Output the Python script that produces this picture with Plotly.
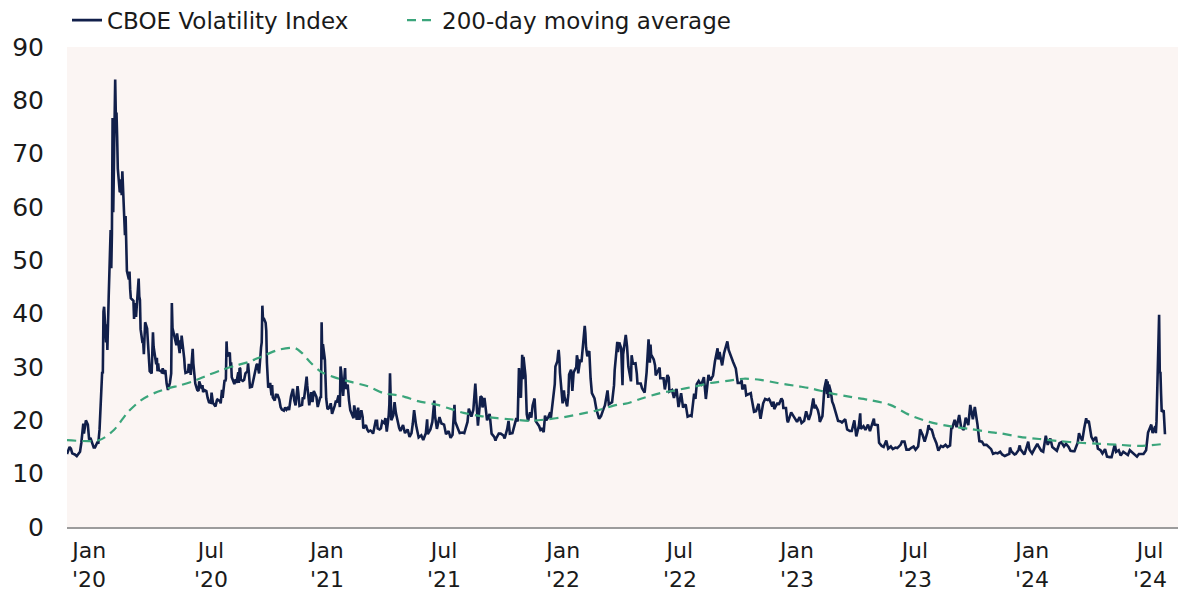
import plotly.graph_objects as go

# ---------------- data ----------------
vix_2020 = [
 ("01-02",13.7),("01-06",15.0),("01-08",14.7),("01-10",13.8),("01-14",13.6),("01-17",13.3),("01-22",14.1),
 ("01-24",15.8),("01-27",19.4),("01-28",17.5),("01-31",20.0),("02-03",19.2),("02-05",16.4),("02-07",16.7),
 ("02-12",14.9),("02-14",14.9),("02-18",16.0),("02-19",15.6),("02-21",18.3),("02-24",26.2),("02-25",29.1),
 ("02-26",28.8),("02-27",40.4),("02-28",41.3),("03-02",34.6),("03-03",38.0),("03-04",33.2),("03-05",40.8),
 ("03-06",43.1),("03-09",55.7),("03-10",48.5),("03-11",55.1),("03-12",76.7),("03-13",59.0),("03-16",83.9),
 ("03-17",77.1),("03-18",77.7),("03-19",73.2),("03-20",67.2),("03-23",62.8),("03-24",62.9),("03-25",65.2),
 ("03-26",62.2),("03-27",66.7),("03-30",58.3),("03-31",54.7),("04-01",58.3),("04-02",52.1),("04-03",48.0),
 ("04-06",46.4),("04-07",47.9),("04-08",44.6),("04-09",42.9),("04-13",42.4),("04-14",39.0),("04-15",42.0),
 ("04-16",41.3),("04-17",39.4),("04-20",45.0),("04-21",46.6),("04-22",43.2),("04-23",42.6),("04-24",37.1),
 ("04-27",34.5),("04-28",34.8),("04-29",32.4),("04-30",35.4),("05-01",38.4),("05-04",37.2),("05-05",34.8),
 ("05-07",32.6),("05-08",29.2),("05-11",28.8),("05-12",34.2),("05-13",36.5),("05-14",33.8),("05-15",33.1),
 ("05-18",30.5),("05-19",31.7),("05-20",29.2),("05-21",30.7),("05-22",29.4),("05-26",29.2),("05-27",28.8),
 ("05-28",29.8),("05-29",28.7),("06-01",29.4),("06-02",28.0),("06-03",26.9),("06-05",25.7),("06-08",27.0),
 ("06-10",28.8),("06-11",42.0),("06-12",37.3),("06-15",35.6),("06-17",34.7),("06-18",34.1),("06-19",36.3),
 ("06-22",33.0),("06-23",32.6),("06-24",35.0),("06-25",33.4),("06-26",35.9),("06-29",33.0),("06-30",31.6),
 ("07-01",29.8),("07-02",28.9),("07-06",29.1),("07-07",30.6),("07-08",29.3),("07-09",30.5),("07-10",28.5),
 ("07-13",33.4),("07-14",30.7),("07-15",29.0),("07-17",26.9),("07-20",25.7),("07-22",25.5),("07-23",27.3),
 ("07-24",27.0),("07-27",25.9),("07-28",26.6),("07-29",25.3),("07-31",25.7),("08-03",25.5),("08-05",24.2),
 ("08-07",23.4),("08-10",23.3),("08-11",25.2),("08-13",23.3),("08-17",22.6),("08-19",23.7),("08-20",23.9),
 ("08-24",23.6),("08-25",23.2),("08-27",25.7),("08-28",24.2),("08-31",27.6),("09-01",27.3),("09-02",27.8),
 ("09-03",34.8),("09-04",32.0),("09-08",32.7),("09-09",30.0),("09-10",30.9),("09-11",28.1),("09-14",27.1),
 ("09-15",26.8),("09-17",27.7),("09-18",27.0),("09-21",29.0),("09-22",27.0),("09-23",29.8),("09-24",29.7),
 ("09-25",27.6),("09-28",27.4),("09-30",27.6),("10-02",28.8),("10-05",29.2),("10-06",30.7),("10-07",29.3),
 ("10-08",27.6),("10-09",26.2),("10-12",26.3),("10-14",27.6),("10-16",28.6),("10-19",30.4),("10-20",30.6),
 ("10-22",29.3),("10-23",28.8),("10-26",33.7),("10-27",34.6),("10-28",41.5),("10-29",38.8),("10-30",39.2),
 ("11-02",38.3),("11-03",36.8),("11-04",30.8),("11-05",28.8),("11-06",26.1),("11-09",27.0),("11-10",26.0),
 ("11-11",24.7),("11-12",26.6),("11-13",24.3),("11-16",23.7),("11-18",25.0),("11-19",24.3),("11-20",24.9),
 ("11-23",23.9),("11-25",22.5),("11-27",22.0),("11-30",21.8),("12-02",22.4),("12-04",22.0),("12-07",22.5),
 ("12-08",21.9),("12-10",23.7),("12-11",24.5),("12-14",25.9),("12-16",23.7),("12-18",22.8),("12-21",26.4),
 ("12-22",25.4),("12-24",22.7),("12-28",22.9),("12-29",24.3),("12-31",24.0),
]
vix_2021 = [
 ("01-04",28.2),("01-05",26.5),("01-07",23.6),("01-08",22.8),("01-11",25.3),("01-13",23.4),("01-15",25.5),
 ("01-19",24.4),("01-21",22.5),("01-22",23.1),("01-25",24.4),("01-26",24.2),("01-27",38.4),("01-28",31.4),
 ("01-29",34.3),("02-01",31.4),("02-02",26.8),("02-03",24.1),("02-05",22.1),("02-08",22.4),("02-10",23.2),
 ("02-12",21.2),("02-16",22.7),("02-18",23.7),("02-19",23.3),("02-22",24.7),("02-24",22.5),("02-25",30.1),
 ("02-26",29.2),("03-01",24.6),("03-03",27.9),("03-04",29.8),("03-05",25.9),("03-08",26.7),("03-10",23.8),
 ("03-12",21.9),("03-15",21.0),("03-17",20.4),("03-18",22.8),("03-19",22.2),("03-22",20.1),("03-24",22.4),
 ("03-26",20.1),("03-29",21.9),("03-31",20.6),("04-01",18.5),("04-05",19.1),("04-07",18.3),("04-09",17.9),
 ("04-12",18.1),("04-14",17.9),("04-16",17.5),("04-20",19.9),("04-22",19.9),("04-23",18.5),("04-26",18.3),
 ("04-28",18.5),("04-30",19.8),("05-03",19.5),("05-05",20.4),("05-07",17.9),("05-10",20.9),("05-11",23.0),
 ("05-12",28.8),("05-13",24.3),("05-14",20.0),("05-17",20.9),("05-19",23.4),("05-21",21.4),("05-24",19.6),
 ("05-26",18.6),("05-28",18.0),("06-01",19.1),("06-04",17.6),("06-08",18.3),("06-11",16.9),("06-14",17.6),
 ("06-16",19.4),("06-18",21.9),("06-21",19.1),("06-23",17.5),("06-25",16.8),("06-29",17.2),("07-02",16.3),
 ("07-06",17.6),("07-08",20.2),("07-09",17.4),("07-13",18.3),("07-16",19.7),("07-19",23.7),("07-20",20.9),
 ("07-23",18.4),("07-27",20.6),("07-30",19.4),("08-03",19.2),("08-06",17.4),("08-10",18.0),("08-13",16.7),
 ("08-16",17.3),("08-18",22.8),("08-19",22.9),("08-20",19.8),("08-24",18.4),("08-27",17.6),("08-31",17.7),
 ("09-03",17.6),("09-08",19.7),("09-10",22.2),("09-14",20.7),("09-17",22.0),("09-20",26.9),("09-22",22.1),
 ("09-24",19.0),("09-28",24.5),("09-30",24.3),("10-01",22.4),("10-04",24.2),("10-06",22.2),("10-08",20.0),
 ("10-12",21.2),("10-15",17.5),("10-19",16.9),("10-21",16.2),("10-22",16.6),("10-26",17.5),("10-29",17.5),
 ("11-02",17.2),("11-04",16.6),("11-08",18.4),("11-10",19.9),("11-12",17.5),("11-16",17.6),("11-19",19.1),
 ("11-22",20.4),("11-24",19.8),("11-26",29.8),("11-29",24.2),("11-30",28.4),("12-01",32.3),("12-02",27.7),
 ("12-03",31.9),("12-06",28.4),("12-08",21.1),("12-10",19.9),("12-13",21.5),("12-15",20.5),("12-17",22.8),
 ("12-20",24.1),("12-22",19.8),("12-27",18.9),("12-29",18.2),("12-31",18.4),
]
vix_2022 = [
 ("01-03",17.8),("01-05",20.9),("01-07",20.0),("01-10",20.6),("01-13",21.5),("01-14",20.4),("01-18",24.0),
 ("01-19",25.1),("01-20",26.8),("01-21",30.1),("01-24",31.1),("01-25",32.4),("01-26",33.2),("01-27",31.7),
 ("01-28",28.9),("02-01",23.2),("02-03",25.6),("02-04",24.4),("02-08",22.6),("02-10",25.1),("02-11",28.6),
 ("02-14",29.5),("02-16",25.5),("02-18",29.0),("02-22",30.0),("02-23",32.2),("02-24",31.5),("02-25",28.8),
 ("02-28",31.4),("03-02",30.9),("03-04",33.2),("03-07",37.7),("03-08",36.3),("03-09",33.7),("03-11",32.0),
 ("03-14",33.0),("03-16",27.9),("03-18",25.1),("03-22",24.1),("03-25",22.0),("03-29",20.3),("04-01",20.8),
 ("04-05",22.2),("04-07",22.8),("04-11",25.6),("04-13",23.0),("04-18",23.4),("04-21",26.6),("04-22",29.4),
 ("04-26",34.7),("04-27",32.8),("04-29",34.6),("05-02",33.5),("05-04",26.6),("05-05",32.4),("05-09",36.0),
 ("05-11",33.8),("05-13",30.1),("05-17",27.3),("05-18",32.2),("05-20",30.6),("05-24",30.7),("05-26",28.7),
 ("05-27",26.9),("06-01",26.9),("06-03",26.0),("06-07",25.2),("06-09",27.3),("06-10",29.0),("06-13",35.2),
 ("06-15",30.8),("06-16",34.2),("06-17",32.3),("06-21",31.4),("06-23",30.3),("06-24",28.4),("06-28",29.6),
 ("06-30",29.9),("07-01",27.9),("07-06",27.9),("07-08",25.8),("07-12",28.5),("07-14",28.0),("07-15",25.4),
 ("07-19",25.7),("07-22",24.2),("07-26",25.9),("07-29",22.5),("08-02",25.1),("08-05",22.4),("08-09",23.0),
 ("08-12",20.7),("08-16",20.9),("08-18",20.8),("08-22",25.0),("08-24",24.0),("08-26",26.8),("08-29",27.4),
 ("09-01",26.8),("09-02",26.7),("09-06",28.1),("09-09",24.0),("09-13",28.5),("09-16",27.5),("09-20",28.4),
 ("09-23",31.1),("09-27",33.5),("09-28",31.4),("09-30",32.8),("10-04",30.3),("10-07",32.6),("10-11",34.8),
 ("10-12",34.8),("10-14",33.2),("10-18",31.7),("10-21",30.9),("10-25",29.7),("10-28",27.0),("11-01",27.0),
 ("11-03",27.5),("11-04",25.8),("11-08",26.7),("11-10",24.7),("11-14",24.9),("11-17",25.1),("11-18",24.3),
 ("11-22",21.6),("11-25",21.7),("11-29",23.1),("12-01",21.0),("12-02",20.3),("12-06",23.2),("12-09",24.0),
 ("12-13",23.8),("12-15",24.0),("12-16",23.8),("12-20",22.6),("12-22",23.5),("12-23",22.1),("12-28",23.3),
 ("12-30",22.9),
]
vix_2023 = [
 ("01-03",24.1),("01-05",23.7),("01-06",22.3),("01-10",22.3),("01-12",20.0),("01-13",19.6),("01-18",21.5),
 ("01-20",21.1),("01-24",20.4),("01-27",19.7),("01-31",20.6),("02-02",19.9),("02-03",19.5),("02-07",19.9),
 ("02-10",21.7),("02-14",20.1),("02-17",21.2),("02-21",24.1),("02-23",22.2),("02-24",22.9),("02-28",21.9),
 ("03-02",20.8),("03-03",19.7),("03-07",20.8),("03-09",23.8),("03-10",26.0),("03-13",27.7),("03-14",24.9),
 ("03-15",27.3),("03-16",24.2),("03-17",26.7),("03-20",25.3),("03-22",23.5),("03-24",22.9),("03-28",21.2),
 ("03-31",19.9),("04-04",19.8),("04-06",19.6),("04-11",20.2),("04-14",18.3),("04-18",18.0),("04-21",18.0),
 ("04-25",20.0),("04-28",17.0),("05-02",19.0),("05-04",21.3),("05-05",18.4),("05-09",18.9),("05-12",18.2),
 ("05-16",19.2),("05-19",18.0),("05-23",19.7),("05-25",20.3),("05-26",19.2),("05-31",19.1),("06-02",15.8),
 ("06-06",15.2),("06-09",15.0),("06-13",16.2),("06-16",14.7),("06-20",15.1),("06-23",14.6),("06-27",14.9),
 ("06-30",14.8),("07-05",15.4),("07-07",16.0),("07-11",16.0),("07-14",14.5),("07-18",14.5),("07-21",14.8),
 ("07-25",15.1),("07-28",14.5),("08-01",15.1),("08-03",17.1),("08-04",18.3),("08-08",17.2),("08-11",16.0),
 ("08-15",17.7),("08-17",19.1),("08-18",18.5),("08-22",18.2),("08-25",16.9),("08-29",15.7),("09-01",14.3),
 ("09-05",15.2),("09-08",15.0),("09-12",15.4),("09-15",15.0),("09-19",15.3),("09-21",18.7),("09-22",18.4),
 ("09-26",20.1),("09-29",18.7),("10-03",21.0),("10-06",18.7),("10-10",18.2),("10-13",20.5),("10-17",19.1),
 ("10-19",22.6),("10-20",22.9),("10-24",20.2),("10-26",21.4),("10-27",22.5),("10-31",19.3),("11-02",16.9),
 ("11-03",16.1),("11-07",16.0),("11-10",15.4),("11-14",15.4),("11-17",15.0),("11-21",14.6),("11-24",13.7),
 ("11-28",13.9),("12-01",13.8),("12-05",14.1),("12-08",13.6),("12-12",13.3),("12-15",13.5),("12-19",13.7),
 ("12-20",14.9),("12-22",14.2),("12-27",13.6),("12-29",13.7),
]
vix_2024 = [
 ("01-02",14.4),("01-04",15.3),("01-05",14.6),("01-09",14.0),("01-11",13.6),("01-12",13.9),("01-17",16.0),
 ("01-19",14.5),("01-23",13.8),("01-26",14.5),("01-31",15.6),("02-02",15.1),("02-06",14.3),("02-09",14.1),
 ("02-13",17.1),("02-16",15.4),("02-20",16.6),("02-23",15.0),("02-27",14.6),("03-01",14.3),("03-05",15.7),
 ("03-08",15.9),("03-12",15.1),("03-15",15.6),("03-19",15.0),("03-22",14.3),("03-26",14.2),("03-28",14.2),
 ("04-02",15.8),("04-04",17.6),("04-05",17.2),("04-09",16.2),("04-12",18.5),("04-15",20.4),("04-16",19.6),
 ("04-19",19.9),("04-23",16.9),("04-26",16.2),("04-30",16.9),("05-03",14.7),("05-07",14.4),("05-10",13.8),
 ("05-14",14.6),("05-17",13.2),("05-21",13.1),("05-24",13.1),("05-29",15.5),("05-31",14.1),("06-04",14.4),
 ("06-07",13.4),("06-11",14.1),("06-14",13.9),("06-18",13.5),("06-21",14.4),("06-25",14.0),("06-28",13.6),
 ("07-02",13.2),("07-05",13.7),("07-09",13.7),("07-12",13.7),("07-16",14.4),("07-17",15.7),("07-19",17.7),
 ("07-24",19.2),("07-26",17.6),("07-30",18.9),("07-31",17.6),("08-01",19.8),("08-02",24.6),("08-05",39.8),
 ("08-06",28.9),("08-07",29.1),("08-08",25.0),("08-09",21.6),("08-12",21.9),("08-13",19.3),("08-14",17.4),
]

ma_dates = [
 "2020-01-02","2020-02-21","2020-03-14","2020-04-05","2020-04-25","2020-05-15","2020-06-05","2020-06-25",
 "2020-07-15","2020-08-06","2020-08-26","2020-09-15","2020-10-06","2020-10-28","2020-11-21","2020-12-11",
 "2020-12-18","2020-12-28","2021-01-11","2021-01-26","2021-02-15","2021-03-13","2021-04-08","2021-05-02",
 "2021-05-29","2021-06-24","2021-07-24","2021-08-09","2021-09-02","2021-09-28","2021-10-24","2021-11-13",
 "2021-12-14","2022-01-09","2022-02-03","2022-03-01","2022-03-27","2022-04-26","2022-05-12","2022-06-05",
 "2022-07-01","2022-07-27","2022-08-21","2022-09-16","2022-10-12","2022-11-06","2022-12-02","2022-12-28",
 "2023-01-28","2023-02-17","2023-03-19","2023-04-19","2023-05-19","2023-06-19","2023-07-19","2023-08-18",
 "2023-09-18","2023-10-19","2023-11-19","2023-12-04","2024-01-04","2024-02-03","2024-03-05","2024-04-05",
 "2024-05-05","2024-06-05","2024-07-06","2024-08-14",
]
ma_values = [
 16.3,16.3,18.2,21.6,23.8,25.1,26.0,26.6,
 27.4,28.5,29.4,30.2,30.9,32.0,33.2,33.6,
 33.5,32.6,30.7,29.1,28.1,27.2,26.4,25.1,
 24.6,23.6,22.9,22.3,21.4,20.8,20.4,20.2,
 19.9,20.2,20.6,21.2,21.9,22.9,23.2,24.2,
 25.1,25.7,26.3,27.0,27.4,27.8,27.6,27.0,
 26.4,26.0,25.1,24.4,23.8,22.9,21.0,19.7,
 18.9,18.4,17.8,17.6,16.9,16.5,16.1,15.8,
 15.6,15.4,15.2,15.6,
]

# tick label anchor dates (where each half-year label sits on the reference axis)
tick_dates = ["2020-02-05","2020-08-10","2021-02-04","2021-08-03","2022-02-02",
              "2022-07-31","2023-01-27","2023-07-27","2024-01-23","2024-07-22"]
tick_month = ["Jan","Jul","Jan","Jul","Jan","Jul","Jan","Jul","Jan","Jul"]
tick_year = ["'20","'20","'21","'21","'22","'22","'23","'23","'24","'24"]

series_names = ["CBOE Volatility Index", "200-day moving average"]

# ---------------- build ----------------
vix_dates, vix_values = [], []
for year, pairs in [(2020, vix_2020), (2021, vix_2021), (2022, vix_2022), (2023, vix_2023), (2024, vix_2024)]:
    for md, v in pairs:
        vix_dates.append(f"{year}-{md}")
        vix_values.append(v)

NAVY = "#111F4A"
GREEN = "#3BA57B"
TEXT = "#1A1A1A"
FONT = "DejaVu Sans"
TICK_SIZE = 25
XTICK_SIZE = 22

fig = go.Figure()
fig.add_trace(go.Scatter(x=vix_dates, y=vix_values, mode="lines", name=series_names[0],
                         line=dict(color=NAVY, width=2.6)))
fig.add_trace(go.Scatter(x=ma_dates, y=ma_values, mode="lines", name=series_names[1],
                         line=dict(color=GREEN, width=2.2, dash="9px,6px", shape="spline", smoothing=0.8)))

# second row of the x tick labels (years)
for d, yr in zip(tick_dates, tick_year):
    fig.add_annotation(x=d, xref="x", y=0, yref="paper", yanchor="bottom", yshift=-66,
                       text=yr, showarrow=False, borderpad=0,
                       font=dict(family=FONT, size=XTICK_SIZE, color=TEXT))

fig.update_layout(
    width=1181, height=594,
    margin=dict(l=67, r=3, t=47, b=67, autoexpand=False),
    paper_bgcolor="white",
    plot_bgcolor="#FBF5F3",
    font=dict(family=FONT, size=23, color=TEXT),
    showlegend=True,
    legend=dict(orientation="h", x=0.0, xanchor="left", yref="container", y=0.966, yanchor="middle",
                font=dict(size=23), bgcolor="rgba(0,0,0,0)", entrywidth=290,
                itemwidth=30, tracegroupgap=0),
    hovermode=False,
)
fig.update_xaxes(type="date", range=["2020-01-02", "2024-09-03"], automargin=False,
                 tickvals=tick_dates, ticktext=tick_month,
                 showgrid=False, zeroline=False, showline=True, linecolor="#9C9C9C", linewidth=2,
                 ticks="", ticklabelstandoff=3, tickfont=dict(size=XTICK_SIZE))
fig.update_yaxes(range=[0, 90], dtick=10, showgrid=False, zeroline=False, showline=False, automargin=False,
                 ticks="", ticklabelstandoff=22, tickfont=dict(size=TICK_SIZE))

fig.write_html("out.html")
